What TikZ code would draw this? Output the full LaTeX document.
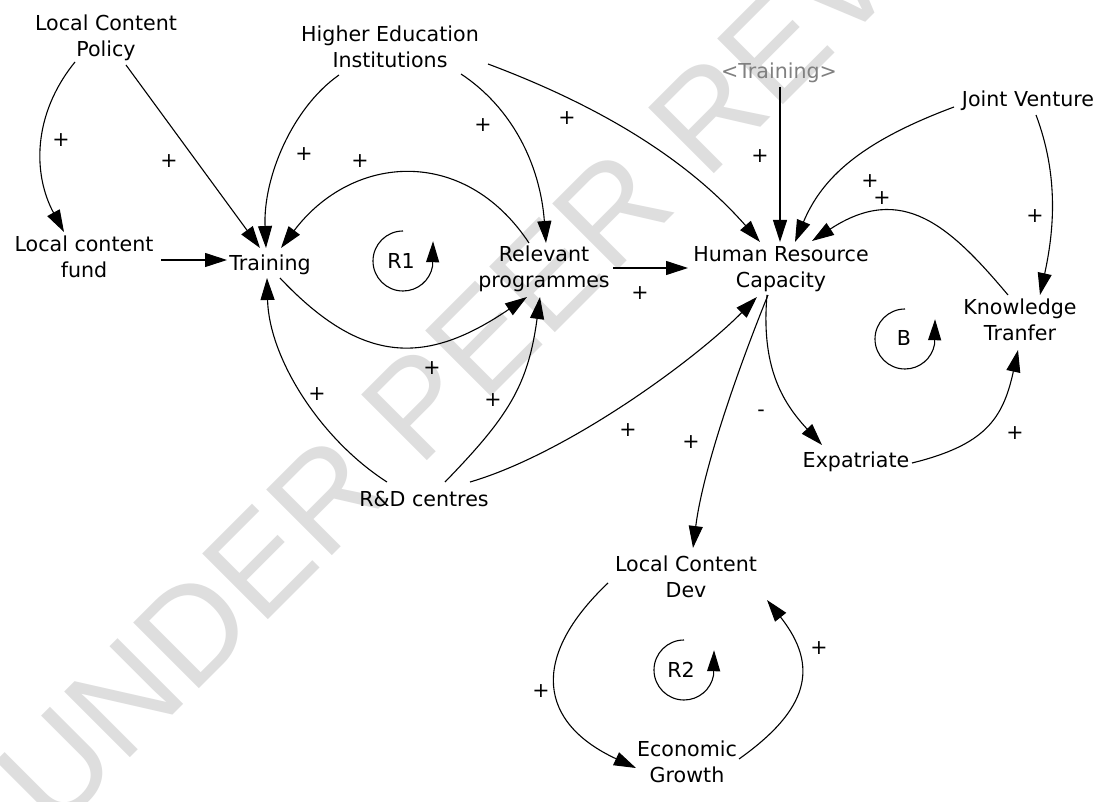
\documentclass[tikz,border=0pt]{standalone}
\usepackage{fontspec}
\setmainfont{DejaVu Sans}
\newfontfamily\wmfont{Liberation Sans}
\usetikzlibrary{arrows.meta,calc}
\begin{document}
\begin{tikzpicture}[x=1pt,y=-1pt,
  every node/.style={inner sep=0pt, outer sep=0pt},
  var/.style={font=\fontsize{20.6}{26}\selectfont, align=center,
    execute at begin node=\strut, execute at end node=\strut},
  ghost/.style={var, text=black!50},
  lab/.style={font=\fontsize{20.6}{26}\selectfont},
  link/.style={draw, line width=1.1pt, -{Triangle[length=22pt,width=14pt]}},
  loopsym/.style={draw, line width=1.1pt, -{Triangle[length=21pt,width=13pt]}},
  wm/.style={font=\wmfont\fontsize{135}{135}\selectfont, text=black!13}]
\fill[white] (0,0) rectangle (1106,802);
\useasboundingbox (0,0) rectangle (1106,802);
% watermark
\begin{scope}
\clip (0,0) rectangle (1106,802);
\node[wm, rotate=45, anchor=base west] (wm) at (54,834) {UNDER PEER REVIEW};
\end{scope}
% variables
\node[var] (lcp) at (106,40) {Local Content\\Policy};
\node[var] (hei) at (390,51) {Higher Education\\Institutions};
\node[var] (lcf) at (84,261) {Local content\\fund};
\node[var] (tr) at (270,265) {Training};
\node[var] (rp) at (544,271) {Relevant\\programmes};
\node[var] (hrc) at (781,271) {Human Resource\\Capacity};
\node[ghost] (trg) at (779,73) {<Training>};
\node[var] (jv) at (1028,101) {Joint Venture};
\node[var] (kt) at (1020,324) {Knowledge\\Tranfer};
\node[var] (exp) at (856,462) {Expatriate};
\node[var] (rd) at (424,501) {R\&D centres};
\node[var] (lcd) at (686,581) {Local Content\\Dev};
\node[var] (eg) at (687,766) {Economic\\Growth};
% loop markers
\node[var] (r1) at (401,263) {R1};
\node[var] (bl) at (904,340) {B};
\node[var] (r2) at (681,672) {R2};
\draw[loopsym] ($(r1)+(2,-32)$) arc[start angle=270, end angle=10, radius=30] -- ++(0.5,-25);
\draw[loopsym] ($(bl)+(1,-31)$) arc[start angle=270, end angle=10, radius=30] -- ++(0.5,-25);
\draw[loopsym] ($(r2)+(3,-32)$) arc[start angle=270, end angle=10, radius=30] -- ++(0.5,-25);
% connectors
\draw[link] ($(lcp)+(-31,22)$) .. controls +(-43,53) and +(-31,-57) .. ($(lcf)+(-20,-29)$);
\draw[link] ($(lcp)+(20,25)$) -- ($(tr)+(-10,-17)$);
\draw[link] ($(lcf)+(77,-1)$) -- ($(tr)+(-43,-5)$);
\draw[link] ($(hei)+(-51,24)$) .. controls +(-47,33) and +(-3,-70) .. ($(tr)+(-4,-17)$);
\draw[link] ($(rp)+(-15,-28)$) .. controls +(-65,-98) and +(71,-94) .. ($(tr)+(11,-17)$);
\draw[link] ($(hei)+(71,23)$) .. controls +(50,33) and +(-6,-80) .. ($(rp)+(2,-28)$);
\draw[link] ($(hei)+(98,13)$) .. controls +(112,42) and +(-73,-83) .. ($(hrc)+(-21,-29)$);
\draw[link] ($(trg)+(1,14)$) -- ($(hrc)+(-1,-29)$);
\draw[link] ($(jv)+(-74,6)$) .. controls +(-94,35) and +(27,-64) .. ($(hrc)+(14,-29)$);
\draw[link] ($(kt)+(-12,-29)$) .. controls +(-58,-69) and +(90,-59) .. ($(hrc)+(31,-30)$);
\draw[link] ($(jv)+(8,14)$) .. controls +(23,61) and +(14,-64) .. ($(kt)+(20,-29)$);
\draw[link] ($(rp)+(69,-3)$) -- ($(hrc)+(-93,-3)$);
\draw[link] ($(tr)+(10,13)$) .. controls +(83,88) and +(-100,68) .. ($(rp)+(-17,26)$);
\draw[link] ($(rd)+(-37,-19)$) .. controls +(-67,-43) and +(2,80) .. ($(tr)+(-3,13)$);
\draw[link] ($(rd)+(21,-19)$) .. controls +(63,-65) and +(-12,89) .. ($(rp)+(-4,26)$);
\draw[link] ($(rd)+(46,-19)$) .. controls +(96,-28) and +(-63,64) .. ($(hrc)+(-24,26)$);
\draw[link] ($(hrc)+(-13,24)$) .. controls +(-30,74) and +(10,-79) .. ($(lcd)+(7,-33)$);
\draw[link] ($(hrc)+(-14,24)$) .. controls +(-6,70) and +(-41,-44) .. ($(exp)+(-34,-17)$);
\draw[link] ($(exp)+(56,1)$) .. controls +(73,-18) and +(-15,69) .. ($(kt)+(-2,26)$);
\draw[link] ($(lcd)+(-78,2)$) .. controls +(-79,75) and +(-97,-45) .. ($(eg)+(-51,2)$);
\draw[link] ($(eg)+(52,-7)$) .. controls +(69,-49) and +(53,67) .. ($(lcd)+(81,19)$);
% polarity labels
\node[lab] (p1) at (61,140) {+};
\node[lab] (p2) at (169,161) {+};
\node[lab] (p4) at (304,154) {+};
\node[lab] (p5) at (360,161) {+};
\node[lab] (p6) at (483,125) {+};
\node[lab] (p7) at (567,118) {+};
\node[lab] (p8) at (760,156) {+};
\node[lab] (p9) at (870,181) {+};
\node[lab] (p10) at (882,198) {+};
\node[lab] (p11) at (1035,216) {+};
\node[lab] (p12) at (640,293) {+};
\node[lab] (p13) at (432,368) {+};
\node[lab] (p14) at (317,394) {+};
\node[lab] (p15) at (493,400) {+};
\node[lab] (p16) at (628,430) {+};
\node[lab] (p17) at (691,442) {+};
\node[lab] (p18) at (761,413) {-};
\node[lab] (p19) at (1015,433) {+};
\node[lab] (p20) at (541,691) {+};
\node[lab] (p21) at (819,648) {+};
\end{tikzpicture}
\end{document}
